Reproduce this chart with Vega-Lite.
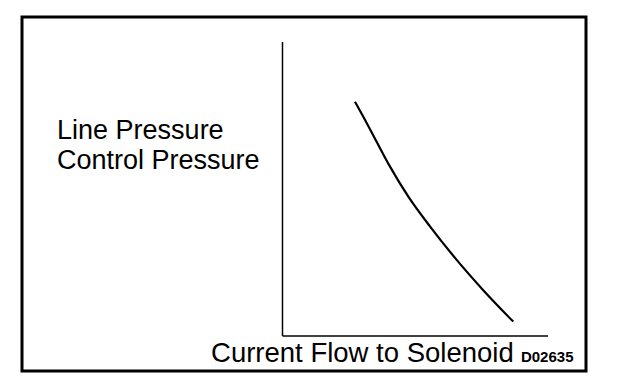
{
  "$schema": "https://vega.github.io/schema/vega-lite/v6.json",
  "autosize": "none",
  "width": 564,
  "height": 354,
  "padding": {"left": 22, "top": 17, "right": 38, "bottom": 15},
  "background": "white",
  "config": {"view": {"stroke": "black", "strokeWidth": 3}, "font": "Liberation Sans"},
  "datasets": {
    "curve": [
      {"current": 27.3, "pressure": 79.7},
      {"current": 31.1, "pressure": 73.5},
      {"current": 34.8, "pressure": 67.2},
      {"current": 40.5, "pressure": 57.6},
      {"current": 47.4, "pressure": 47.4},
      {"current": 55.6, "pressure": 37.2},
      {"current": 65.6, "pressure": 25.9},
      {"current": 75.6, "pressure": 15.6},
      {"current": 86.9, "pressure": 4.9}
    ],
    "axes": [
      {"x": 0, "y": 0, "x2": 0, "y2": 100},
      {"x": 0, "y": 0, "x2": 100, "y2": 0}
    ],
    "ylabels": [
      {"label": "Line Pressure", "x": -84.9, "y": 67.0},
      {"label": "Control Pressure", "x": -84.9, "y": 56.8}
    ],
    "xlabel": [
      {"label": "Current Flow to Solenoid", "x": -26.9, "y": -9.0}
    ],
    "code": [
      {"label": "D02635", "x": 89.8, "y": -8.8}
    ]
  },
  "layer": [
    {
      "data": {"name": "axes"},
      "mark": {"type": "rule", "color": "black", "strokeWidth": 1.5},
      "encoding": {
        "x": {"field": "x", "type": "quantitative", "scale": {"domain": [-98.1, 114.3], "nice": false, "zero": false}, "axis": null},
        "y": {"field": "y", "type": "quantitative", "scale": {"domain": [-11.9, 108.5], "nice": false, "zero": false}, "axis": null},
        "x2": {"field": "x2"},
        "y2": {"field": "y2"}
      }
    },
    {
      "data": {"name": "curve"},
      "mark": {"type": "line", "color": "black", "strokeWidth": 2.2, "interpolate": "monotone"},
      "encoding": {
        "x": {"field": "current", "type": "quantitative"},
        "y": {"field": "pressure", "type": "quantitative"}
      }
    },
    {
      "data": {"name": "ylabels"},
      "mark": {"type": "text", "align": "left", "baseline": "alphabetic", "fontSize": 27, "color": "black"},
      "encoding": {
        "x": {"field": "x", "type": "quantitative"},
        "y": {"field": "y", "type": "quantitative"},
        "text": {"field": "label"}
      }
    },
    {
      "data": {"name": "xlabel"},
      "mark": {"type": "text", "align": "left", "baseline": "alphabetic", "fontSize": 27.5, "color": "black"},
      "encoding": {
        "x": {"field": "x", "type": "quantitative"},
        "y": {"field": "y", "type": "quantitative"},
        "text": {"field": "label"}
      }
    },
    {
      "data": {"name": "code"},
      "mark": {"type": "text", "align": "left", "baseline": "alphabetic", "fontSize": 15, "fontWeight": "bold", "color": "black"},
      "encoding": {
        "x": {"field": "x", "type": "quantitative"},
        "y": {"field": "y", "type": "quantitative"},
        "text": {"field": "label"}
      }
    }
  ]
}
